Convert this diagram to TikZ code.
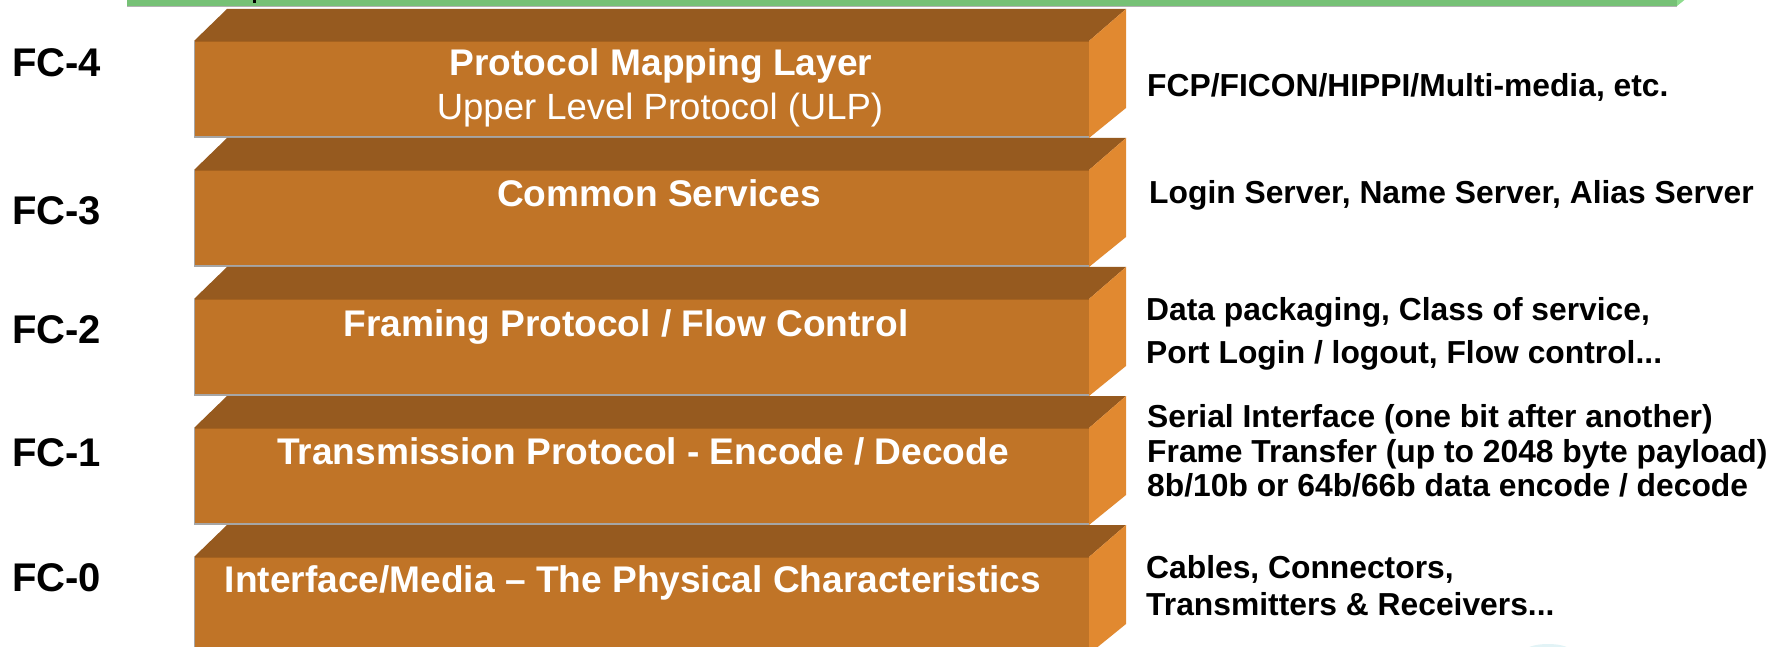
\documentclass[tikz,border=0pt]{standalone}
\usepackage{fontspec}
\setmainfont{Liberation Sans}
\definecolor{topface}{HTML}{965A1F}
\definecolor{frontface}{HTML}{C07427}
\definecolor{sideface}{HTML}{E18930}
\definecolor{frontedge}{HTML}{A5621F}
\definecolor{greenbar}{HTML}{76C176}
\definecolor{greenside}{HTML}{8EDC8E}
\definecolor{faintcyan}{HTML}{E2F3F6}
\newcommand{\layerblock}[1]{%
  \fill[topface] (194,#1+32) -- (227,#1) -- (1126,#1) -- (1089,#1+32) -- cycle;
  \fill[sideface] (1089,#1+32) -- (1126,#1) -- (1126,#1+99) -- (1089,#1+129) -- cycle;
  \fill[frontface] (194,#1+32) rectangle (1089,#1+128);
  \draw[frontedge, line width=1.5pt] (194,#1+32.5) -- (1089,#1+32.5);
  \draw[gray!70, line width=1.2pt] (194.5,#1+32) -- (194.5,#1+128) -- (1089,#1+128);
}
\begin{document}
\begin{tikzpicture}[x=1pt,y=-1pt,
  fclabel/.style={anchor=base west, inner sep=0pt, font=\fontsize{40}{48}\selectfont\bfseries},
  title/.style={anchor=base, inner sep=0pt, text=white, font=\fontsize{37.1}{44}\selectfont\bfseries},
  subtitle/.style={anchor=base, inner sep=0pt, text=white, font=\fontsize{36.5}{44}\selectfont},
  desc/.style={anchor=base west, inner sep=0pt, font=\fontsize{31.8}{38}\selectfont\bfseries}]
\path[use as bounding box] (0,0) rectangle (1781,647);
\clip (0,0) rectangle (1781,647);
\fill[white] (0,0) rectangle (1781,647);
% green bar (bottom of an upper block)
\fill[greenbar] (127,-40) rectangle (1677,6);
\fill[greenside] (1677,6) -- (1714,-24) -- (1714,-60) -- (1677,-60) -- cycle;
\draw[gray!60, line width=1.2pt] (127,6.5) -- (1677,6.5);
\draw[black, line width=3pt] (254,0) -- (254,3);
% layer blocks
\layerblock{9}
\layerblock{138}
\layerblock{267}
\layerblock{396}
\layerblock{525}
% faint element at bottom right
\fill[faintcyan] (1548,652) ellipse (24 and 8);
% left labels
\node[fclabel] (fc4) at (12,77) {FC-4};
\node[fclabel] (fc3) at (12,225) {FC-3};
\node[fclabel] (fc2) at (12,343) {FC-2};
\node[fclabel] (fc1) at (12,466) {FC-1};
\node[fclabel] (fc0) at (12,591) {FC-0};
% block titles
\node[title] (t4) at (661,76) {Protocol Mapping Layer};
\node[subtitle] (t4b) at (660,120) {Upper Level Protocol (ULP)};
\node[title] (t3) at (659,207) {Common Services};
\node[title] (t2) at (626,336) {Framing Protocol / Flow Control};
\node[title] (t1) at (643,464) {Transmission Protocol - Encode / Decode};
\node[title] (t0) at (633,592) {Interface/Media – The Physical Characteristics};
% descriptions
\node[desc] (d4) at (1147,97) {FCP/FICON/HIPPI/Multi-media, etc.};
\node[desc] (d3) at (1149,204) {Login Server, Name Server, Alias Server};
\node[desc] (d2a) at (1146,320) {Data packaging, Class of service,};
\node[desc] (d2b) at (1146,363) {Port Login / logout, Flow control...};
\node[desc] (d1a) at (1147,427) {Serial Interface (one bit after another)};
\node[desc] (d1b) at (1147,462) {Frame Transfer (up to 2048 byte payload)};
\node[desc] (d1c) at (1147,496) {8b/10b or 64b/66b data encode / decode};
\node[desc] (d0a) at (1146,578) {Cables, Connectors,};
\node[desc] (d0b) at (1146,615) {Transmitters \& Receivers...};
\end{tikzpicture}
\end{document}
